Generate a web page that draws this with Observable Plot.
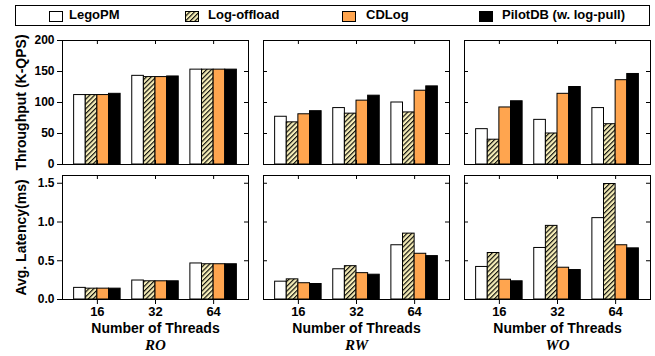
<!DOCTYPE html>
<html>
<head>
<meta charset="utf-8">
<script src="https://cdn.jsdelivr.net/npm/d3@7"></script>
<script src="https://cdn.jsdelivr.net/npm/@observablehq/plot@0.6"></script>
<style>
  html, body { margin: 0; padding: 0; background: white; }
  #root { position: relative; width: 655px; height: 356px; overflow: hidden; background: white;
          font-family: "Liberation Sans", Arial, sans-serif; font-weight: bold; color: black; }
  .pnl { position: absolute; }
  .legbox { position: absolute; left: 15px; top: 5px; width: 635px; height: 21px; box-sizing: border-box;
            border: 1px solid black; }
  .legsw { position: absolute; top: 11px; }
  .legtx { position: absolute; top: 7px; font-size: 13px; line-height: 16px; white-space: nowrap; }
</style>
</head>
<body>
<svg width="0" height="0" style="position:absolute">
  <defs>
    <pattern id="hatch" patternUnits="userSpaceOnUse" width="3.4" height="3.4" patternTransform="rotate(45)">
      <rect width="3.4" height="3.4" fill="#f6eeb8"></rect>
      <line x1="0.6" y1="0" x2="0.6" y2="3.4" stroke="black" stroke-width="1.1"></line>
    </pattern>
  </defs>
</svg>
<div id="root"></div>
<script>
// ---- data ----
const threads = ["16", "32", "64"];
const systems = ["LegoPM", "Log-offload", "CDLog", "PilotDB (w. log-pull)"];
const workloads = ["RO", "RW", "WO"];
const fills = ["white", "url(#hatch)", "#ffa54f", "black"];

// throughput (K-QPS): rows = threads 16/32/64, cols = systems
const thrRO = [[112, 112, 112, 114], [143, 141, 141, 142], [153, 153, 153, 153]];
const thrRW = [[77, 68, 81, 86], [91, 82, 103, 111], [100, 84, 119, 126]];
const thrWO = [[57, 40, 92, 102], [72, 50, 114, 125], [91, 65, 136, 146]];
// average latency (ms)
const latRO = [[0.15, 0.14, 0.14, 0.14], [0.245, 0.235, 0.235, 0.235], [0.465, 0.455, 0.455, 0.455]];
const latRW = [[0.23, 0.26, 0.21, 0.20], [0.39, 0.43, 0.34, 0.32], [0.70, 0.85, 0.59, 0.56]];
const latWO = [[0.42, 0.60, 0.255, 0.235], [0.665, 0.95, 0.41, 0.38], [1.05, 1.49, 0.70, 0.66]];

const thrTicks = [0, 50, 100, 150, 200];
const latTicks = [0, 0.5, 1.0, 1.5];
const yTitles = ["Throughput (K-QPS)", "Avg. Latency(ms)"];
const xTitle = "Number of Threads";

const root = document.getElementById("root");

// legend
const legSwX = [49, 185, 342, 479];
const legTxX = [69, 208, 366, 502];
const box = document.createElement("div");
box.className = "legbox";
root.appendChild(box);
systems.forEach((s, j) => {
  const sw = document.createElementNS("http://www.w3.org/2000/svg", "svg");
  sw.setAttribute("width", 14); sw.setAttribute("height", 11);
  sw.setAttribute("class", "legsw");
  sw.style.left = legSwX[j] + "px";
  const r = document.createElementNS("http://www.w3.org/2000/svg", "rect");
  r.setAttribute("x", 0.5); r.setAttribute("y", 0.5); r.setAttribute("width", 13); r.setAttribute("height", 10);
  r.setAttribute("fill", fills[j]); r.setAttribute("stroke", "black");
  sw.appendChild(r);
  root.appendChild(sw);
  const t = document.createElement("div");
  t.className = "legtx";
  t.style.left = legTxX[j] + "px";
  t.textContent = s;
  root.appendChild(t);
});

const IW = 186, IH = 124;
const frameX = [62, 263, 464];
const frameY = [40, 175];

function panel(vals, row, col) {
  const data = [];
  threads.forEach((t, i) => systems.forEach((s, j) => data.push({gi: i, si: j, system: s, value: vals[i][j]})));
  const bottom = row === 1;
  const yTicks = bottom ? latTicks : thrTicks;
  const ml = col === 0 ? 62 : 5, mr = 5, mt = 5, mb = bottom ? 56 : 10;
  const marks = [
    Plot.rect(data, {
      x1: d => d.gi - 0.4 + 0.2 * d.si,
      x2: d => d.gi - 0.2 + 0.2 * d.si,
      y1: 0, y2: "value",
      fill: "system", stroke: "black", strokeWidth: 1
    }),
    Plot.frame({stroke: "black"}),
    Plot.ruleY(yTicks, {insetLeft: IW - 4, stroke: "black"}),
    Plot.ruleX([0, 1, 2], {insetBottom: IH - 4, stroke: "black"})
  ];
  if (col === 0) {
    marks.push(Plot.axisY({ticks: yTicks, tickFormat: bottom ? d3.format(".1f") : d3.format("d"),
      tickSize: 5, tickPadding: 3, fontSize: 12, fontWeight: "bold", label: null}));
    marks.push(Plot.text([yTitles[row]], {text: d => d, frameAnchor: "left", rotate: -90, dx: -41,
      textAnchor: "middle", lineAnchor: "middle", fontSize: 14, fontWeight: "bold"}));
  } else {
    marks.push(Plot.ruleY(yTicks, {insetRight: IW - 4, stroke: "black"}));
  }
  if (bottom) {
    marks.push(Plot.axisX({ticks: [0, 1, 2], tickFormat: i => threads[i], tickSize: 5, tickPadding: 2,
      fontSize: 13, fontWeight: "bold", label: null}));
    marks.push(Plot.text([xTitle], {text: d => d, frameAnchor: "bottom", dy: 29,
      textAnchor: "middle", lineAnchor: "middle", fontSize: 14, fontWeight: "bold"}));
    marks.push(Plot.text([workloads[col]], {text: d => d, frameAnchor: "bottom", dy: 46,
      textAnchor: "middle", lineAnchor: "middle", fontSize: 15, fontWeight: "bold",
      fontStyle: "italic", fontFamily: "'Liberation Serif', 'Times New Roman', serif"}));
  } else {
    marks.push(Plot.ruleX([0, 1, 2], {insetTop: IH - 4, stroke: "black"}));
  }
  const plot = Plot.plot({
    width: ml + IW + mr,
    height: mt + IH + mb,
    marginLeft: ml, marginRight: mr, marginTop: mt, marginBottom: mb,
    style: {background: "transparent", overflow: "visible",
      fontFamily: "'Liberation Sans', Arial, sans-serif", fontWeight: "bold", color: "black"},
    x: {domain: [-0.6, 2.6], axis: bottom ? undefined : null},
    y: {domain: bottom ? [0, 1.6] : [0, 200], axis: col === 0 ? undefined : null},
    color: {type: "ordinal", domain: systems, range: fills},
    marks
  });
  plot.classList.add("pnl");
  plot.style.position = "absolute";
  plot.style.left = (frameX[col] - ml) + "px";
  plot.style.top = (frameY[row] - mt) + "px";
  root.appendChild(plot);
}

const thr = [thrRO, thrRW, thrWO];
const lat = [latRO, latRW, latWO];
[0, 1, 2].forEach(c => { panel(thr[c], 0, c); panel(lat[c], 1, c); });
</script>
</body>
</html>
